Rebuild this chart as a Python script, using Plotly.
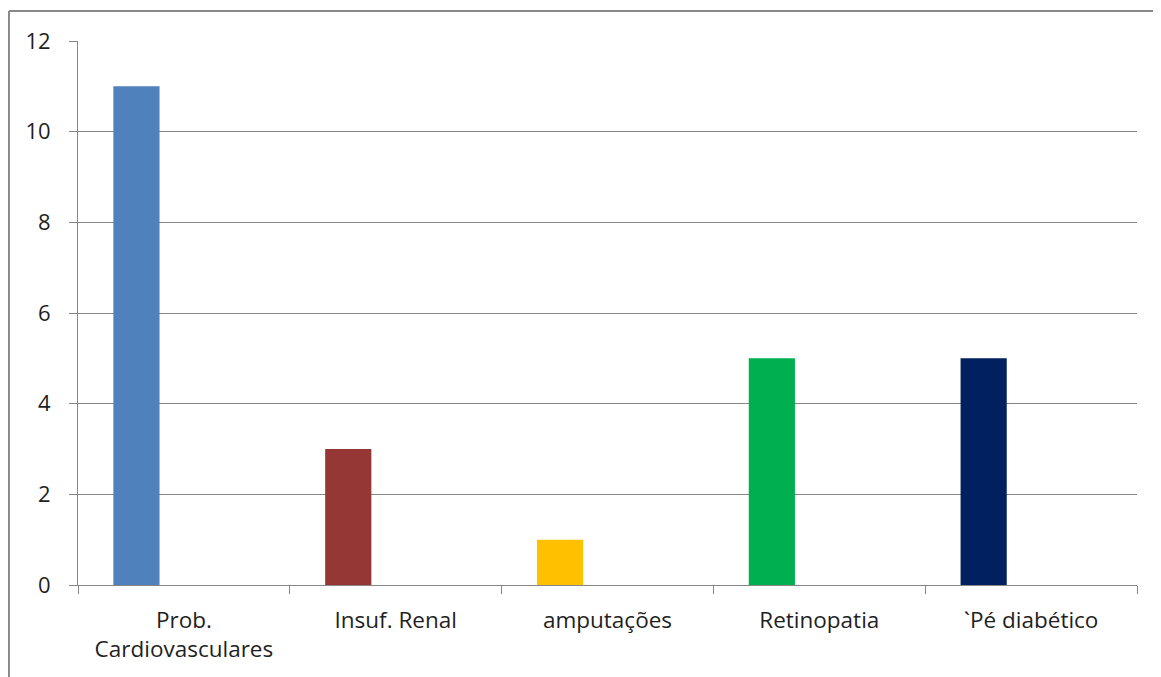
import plotly.graph_objects as go

categories = ["Prob.<br>Cardiovasculares", "Insuf. Renal", "amputações", "Retinopatia", "`Pé diabético"]
values = [11, 3, 1, 5, 5]
colors = ["#4F81BD", "#953735", "#FFC000", "#00B050", "#002060"]
y_ticks = [0, 2, 4, 6, 8, 10, 12]

fig = go.Figure()
fig.add_trace(go.Bar(
    x=categories, y=values,
    marker=dict(color=colors, line=dict(width=0)),
    width=0.218, offset=-0.333,
    hoverinfo="x+y",
))

axis_gray = "#868686"
font = dict(family="Open Sans, Noto Sans, sans-serif", size=22, color="#1f1f1f")
xfont = dict(family="Open Sans, Noto Sans, sans-serif", size=22.5, color="#1f1f1f")

fig.update_layout(
    width=1153, height=669,
    margin=dict(l=70, r=24, t=33, b=92),
    paper_bgcolor="white", plot_bgcolor="white",
    showlegend=False,
    font=font,
    xaxis=dict(
        type="category",
        showline=True, linecolor=axis_gray, linewidth=1,
        ticks="outside", tickson="boundaries", ticklen=8, tickcolor=axis_gray,
        showgrid=False, tickfont=xfont,
        range=[-0.5, 4.5],
        ticklabelstandoff=15,
    ),
    yaxis=dict(
        range=[0, 12], tickvals=y_ticks,
        showline=True, linecolor=axis_gray, linewidth=1,
        ticks="outside", ticklen=8, tickcolor=axis_gray,
        showgrid=True, gridcolor=axis_gray, gridwidth=1,
        zeroline=False, tickfont=font,
        ticklabelstandoff=14,
    ),
    shapes=[
        dict(type="line", xref="paper", yref="paper",
             x0=-0.0652, x1=-0.0652, y0=1.0551, y1=-0.3,
             line=dict(color="#8a8a8a", width=2)),
        dict(type="line", xref="paper", yref="paper",
             x0=-0.0652, x1=1.1, y0=1.0551, y1=1.0551,
             line=dict(color="#8a8a8a", width=2)),
    ],
)

fig.write_html("out.html")
